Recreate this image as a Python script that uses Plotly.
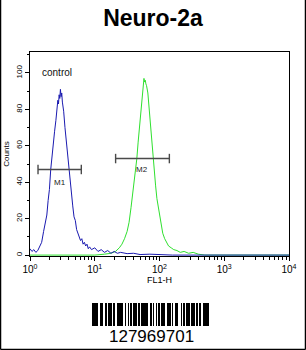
import math
import plotly.graph_objects as go

# ---------------- data ----------------
title_text = "Neuro-2a"
x_title = "FL1-H"
y_title = "Counts"

# control (blue) histogram: log10(FL1-H) and counts
control_log = [0.00, 0.03, 0.06, 0.09, 0.12, 0.15, 0.18, 0.21, 0.24, 0.26, 0.28, 0.30, 0.32,
               0.34, 0.36, 0.38, 0.40, 0.42, 0.43, 0.44, 0.45, 0.46, 0.47, 0.48, 0.49, 0.50,
               0.52, 0.54, 0.56, 0.58, 0.60, 0.62, 0.64, 0.66, 0.68, 0.70, 0.72, 0.74, 0.76,
               0.78, 0.80, 0.82, 0.84, 0.86, 0.88, 0.90, 0.92, 0.95, 1.00, 1.05, 1.10, 1.15,
               1.20, 1.25, 1.30, 1.35, 1.40, 1.50, 1.60, 1.70, 1.85, 2.00, 2.20, 4.00]
control_counts = [3.5, 2.0, 3.0, 1.5, 2.5, 4.5, 7, 13, 18, 22, 30, 36, 47,
                  55, 60, 68, 74, 80, 85, 83, 88, 86, 91, 87, 89, 84,
                  79, 70, 63, 55, 45, 38, 33, 27, 21, 19, 14, 12, 11,
                  8, 9, 6, 7, 5, 6, 3.5, 4.5, 3, 4, 2, 3, 1.5,
                  2.5, 1, 2, 1, 1.5, 0.8, 1, 0.3, 0.5, 0.2, 0, 0]

# sample (green) histogram
sample_log = [0.00, 1.00, 1.15, 1.25, 1.32, 1.38, 1.42, 1.46, 1.50, 1.53, 1.56, 1.59, 1.62,
              1.65, 1.67, 1.69, 1.71, 1.73, 1.75, 1.76, 1.77, 1.78, 1.79, 1.80, 1.82, 1.84,
              1.86, 1.88, 1.90, 1.92, 1.94, 1.96, 1.98, 2.00, 2.02, 2.05, 2.08, 2.11, 2.14,
              2.18, 2.22, 2.27, 2.32, 2.38, 2.45, 2.52, 2.60, 2.70, 4.00]
sample_counts = [0, 0, 0.5, 1, 2, 4, 6, 9, 13, 18, 26, 34, 44,
                 53, 62, 70, 78, 86, 94, 97, 95, 96, 94, 93, 89, 80,
                 70, 60, 52, 45, 38, 31, 27, 22, 17, 12, 9, 7, 5,
                 4, 3, 2.5, 1.5, 2, 1, 1.5, 0.5, 0, 0]

# gates
gate_names = ["M1", "M2"]
gate_lo = [1.33, 21.0]
gate_hi = [6.2, 142.0]
gate_level = [47, 53]
gate_label_y = [40, 47]

control_label = "control"
control_label_pos = (2.65, 100.5)

# axis ticks
x_tick_vals = [1, 10, 100, 1000, 10000]
x_tick_text = ["10<sup>0</sup>", "10<sup>1</sup>", "10<sup>2</sup>", "10<sup>3</sup>", "10<sup>4</sup>"]
y_tick_vals = [0, 20, 40, 60, 80, 100]

# barcode (alternating bar/space module widths, starting with a bar)
barcode_widths = [2, 1, 1, 2, 1, 4, 1, 1, 2, 2, 3, 2, 1, 2, 1, 2, 2, 3, 3, 1, 1, 1, 2, 3,
                  1, 3, 1, 2, 2, 2, 2, 1, 1, 3, 1, 3, 1, 1, 3, 1, 2, 3, 2, 2, 1, 3, 1, 2,
                  1, 2, 3, 1, 2, 2, 3, 1, 1, 2, 1, 3, 1, 1, 2, 4, 1, 2, 2, 1, 3, 1, 1, 3,
                  1, 2, 1, 2, 3, 1, 2, 3, 3, 1, 1, 1, 2]
barcode_text = "127969701"

# ---------------- figure ----------------
FONT = "Liberation Sans, Arial, sans-serif"
fig = go.Figure()

fig.add_trace(go.Scatter(x=[10 ** v for v in sample_log], y=sample_counts, mode="lines",
                         line=dict(color="#2fe02f", width=1), hoverinfo="skip"))
fig.add_trace(go.Scatter(x=[10 ** v for v in control_log], y=control_counts, mode="lines",
                         line=dict(color="#1a1ab0", width=1), hoverinfo="skip"))

for name, lo, hi, lv, ly in zip(gate_names, gate_lo, gate_hi, gate_level, gate_label_y):
    fig.add_trace(go.Scatter(
        x=[lo, hi, None, lo, lo, None, hi, hi],
        y=[lv, lv, None, lv - 2.6, lv + 2.6, None, lv - 2.6, lv + 2.6],
        mode="lines", line=dict(color="#4a4a4a", width=1.4), hoverinfo="skip"))
    fig.add_annotation(x=math.log10((lo * hi) ** 0.5), y=ly, text=name, showarrow=False,
                       xref="x", yref="y", font=dict(size=8, color="#222", family=FONT))

fig.add_annotation(x=math.log10(control_label_pos[0]), y=control_label_pos[1], text=control_label,
                   showarrow=False, xref="x", yref="y",
                   font=dict(size=10, color="#111", family=FONT))

# barcode as bar trace on its own axes
bx, bw = [], []
pos = 0
for i, w in enumerate(barcode_widths):
    if i % 2 == 0:
        bx.append(pos + w / 2)
        bw.append(w)
    pos += w
fig.add_trace(go.Bar(x=bx, y=[1] * len(bx), width=bw, marker=dict(color="black", line_width=0),
                     xaxis="x2", yaxis="y2", hoverinfo="skip"))

fig.add_annotation(x=(151 - 30) / 259, y=(350 - 348) / 298, xref="paper", yref="paper",
                   text=barcode_text, showarrow=False, yanchor="bottom",
                   font=dict(size=17, color="black", family=FONT))

# outer border (left, bottom, right)
L = (0.5 - 30) / 259
R = (305.5 - 30) / 259
T = (350 - 0) / 298
B = (350 - 349.5) / 298
for x0, y0, x1, y1 in [(L, B, L, T), (L, B, R, B), (R, B, R, T)]:
    fig.add_shape(type="line", xref="paper", yref="paper", x0=x0, y0=y0, x1=x1, y1=y1,
                  line=dict(color="black", width=1.5))

fig.update_layout(
    width=306, height=350,
    margin=dict(l=30, r=17, t=52, b=0),
    paper_bgcolor="white", plot_bgcolor="white",
    showlegend=False,
    title=dict(text="<b>" + title_text + "</b>", x=(153) / 306, xanchor="center",
               y=1 - 18 / 350, yanchor="middle", yref="container",
               font=dict(size=23, color="black", family=FONT)),
    xaxis=dict(type="log", range=[0, 4], domain=[0, 1], anchor="y",
               tickvals=x_tick_vals, ticktext=x_tick_text, ticks="outside", ticklen=4,
               tickcolor="black", tickfont=dict(size=10, color="black", family=FONT),
               minor=dict(ticks="outside", ticklen=3, tickcolor="black",
                          tickvals=[m * d for d in [1, 10, 100, 1000] for m in range(2, 10)]),
               showline=True, linecolor="black", linewidth=1, mirror=True,
               showgrid=False, zeroline=False,
               title=dict(text=x_title, standoff=2, font=dict(size=9, color="black", family=FONT))),
    yaxis=dict(range=[-0.5, 111.5], domain=[(350 - 256) / 298, 1], anchor="x",
               tickvals=y_tick_vals, ticks="outside", ticklen=4, tickcolor="black",
               tickangle=-90, tickfont=dict(size=8, color="black", family=FONT),
               minor=dict(ticks="outside", ticklen=2, tickcolor="black", dtick=10, tick0=0),
               showline=True, linecolor="black", linewidth=1, mirror=True,
               showgrid=False, zeroline=False,
               title=dict(text=y_title, standoff=3, font=dict(size=8, color="black", family=FONT))),
    xaxis2=dict(domain=[(92 - 30) / 259, (209 - 30) / 259], anchor="y2",
                range=[0, sum(barcode_widths)], visible=False, fixedrange=True),
    yaxis2=dict(domain=[(350 - 326) / 298, (350 - 303) / 298], anchor="x2",
                range=[0, 1], visible=False, fixedrange=True),
    bargap=0,
)

fig.write_html("out.html")
